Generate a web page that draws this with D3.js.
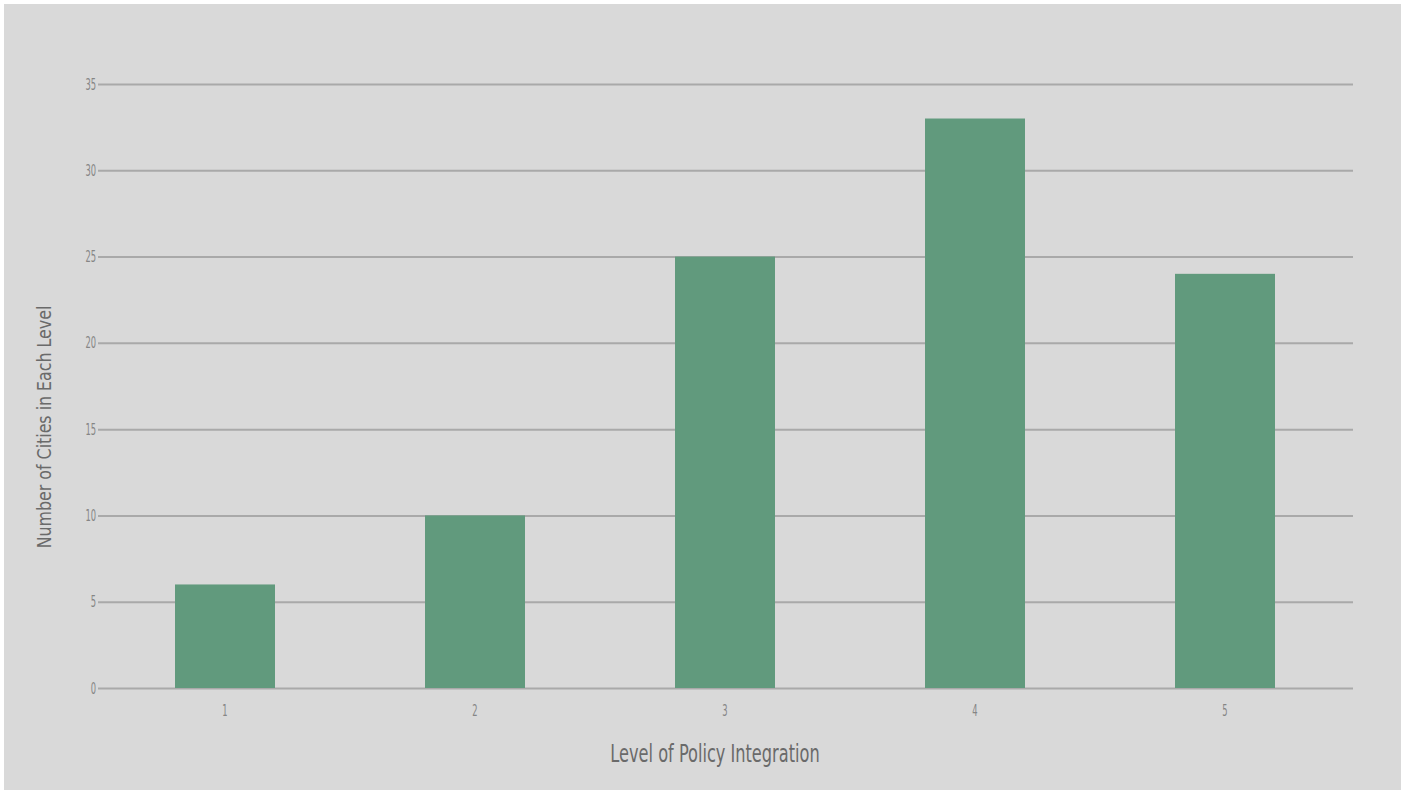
<!DOCTYPE html>
<html><head><meta charset="utf-8">
<script src="https://cdn.jsdelivr.net/npm/d3@7"></script>
<style>
html,body{margin:0;padding:0;background:#fff;}
svg{display:block;}
text{font-family:"DejaVu Sans Condensed","DejaVu Sans",sans-serif;}
</style></head>
<body>
<svg id="chart" width="1407" height="794"></svg>
<script>
const categories = ["1","2","3","4","5"];
const values = [6, 10, 25, 33, 24];
const yTicks = [0,5,10,15,20,25,30,35];
const xTitle = "Level of Policy Integration";
const yTitle = "Number of Cities in Each Level";

const svg = d3.select("#chart");
svg.append("rect").attr("x",4).attr("y",4).attr("width",1397).attr("height",786).attr("fill","#d9d9d9");

const x = d3.scaleBand().domain(categories).range([100,1350]).paddingInner(0.6).paddingOuter(0.3);
const y = d3.scaleLinear().domain([0,35]).range([688,84]);

// gridlines
const gy = svg.append("g").attr("transform","translate(98,0)")
  .call(d3.axisLeft(y).tickValues(yTicks).tickSize(-1255));
gy.select(".domain").remove();
gy.selectAll(".tick line").attr("stroke","#a9a9a9").attr("stroke-width",2);
gy.selectAll(".tick text").attr("x",0).attr("fill","#858585").attr("font-size",16)
  .attr("transform","translate(-2,0) scale(0.58,1)");

// bars
svg.append("g").selectAll("rect").data(values).join("rect")
  .attr("x",(d,i)=>x(categories[i]))
  .attr("y",d=>y(d))
  .attr("width",x.bandwidth())
  .attr("height",d=>y(0)-y(d))
  .attr("fill","#619a7d");

// x axis
const gx = svg.append("g").attr("transform","translate(0,688)")
  .call(d3.axisBottom(x).tickSize(0).tickPadding(17));
gx.select(".domain").remove();
gx.selectAll(".tick text").attr("fill","#858585").attr("font-size",16)
  .attr("transform","scale(0.58,1)");

svg.append("text").attr("transform","translate(715,762) scale(0.72,1)").attr("text-anchor","middle")
  .attr("fill","#6a6a6a").attr("font-size",25).text(xTitle);
svg.append("text").attr("transform","translate(51,427) rotate(-90) scale(0.88,1)").attr("text-anchor","middle")
  .attr("fill","#6a6a6a").attr("font-size",20).text(yTitle);
</script>
</body></html>
